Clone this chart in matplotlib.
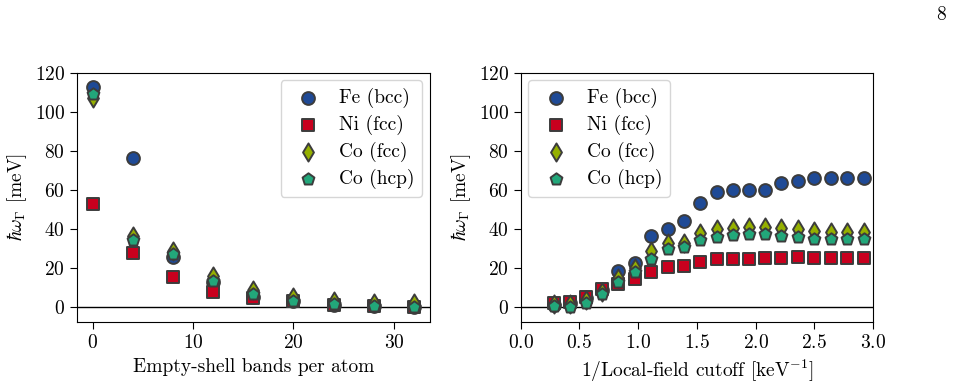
import numpy as np
import matplotlib
matplotlib.use("Agg")
import matplotlib.pyplot as plt

plt.rcParams['font.family'] = 'serif'
plt.rcParams['font.serif'] = ['cmr10', 'DejaVu Serif']
plt.rcParams['mathtext.fontset'] = 'cm'
plt.rcParams['axes.unicode_minus'] = False
plt.rcParams['axes.formatter.use_mathtext'] = True
plt.rcParams['font.size'] = 14

# dados - painel esquerdo
bands = [0, 4, 8, 12, 16, 20, 24, 28, 32]
fe_bands = [112.8, 76.1, 25.3, 12.8, 5.0, 3.0, 1.0, 0.5, 0.0]
ni_bands = [52.6, 27.4, 15.0, 7.4, 4.3, 3.0, 1.0, 0.5, 0.0]
cofcc_bands = [107.0, 36.4, 28.7, 15.7, 8.5, 5.0, 3.0, 2.0, 1.7]
cohcp_bands = [109.0, 34.2, 26.8, 13.3, 6.3, 3.0, 1.2, 0.5, 0.0]

# dados - painel direito
inv_cut = [0.28, 0.42, 0.56, 0.69, 0.83, 0.97, 1.11, 1.25, 1.39, 1.53,
           1.67, 1.81, 1.94, 2.08, 2.22, 2.36, 2.50, 2.64, 2.78, 2.92]
fe_cut = [1.0, 2.0, 4.5, 8.5, 18.5, 22.2, 36.2, 39.7, 44.1, 53.0,
          58.6, 59.8, 59.8, 59.8, 63.6, 64.4, 65.8, 65.8, 65.8, 65.8]
ni_cut = [1.7, 2.6, 4.8, 8.9, 11.6, 14.0, 17.6, 20.5, 21.0, 22.7,
          24.4, 24.4, 24.4, 24.8, 24.8, 25.6, 25.1, 25.1, 25.1, 25.1]
cofcc_cut = [1.2, 1.5, 3.5, 7.5, 14.5, 20.0, 28.7, 32.8, 32.8, 37.9,
             39.7, 40.2, 41.0, 40.7, 40.2, 39.8, 38.8, 38.5, 38.5, 38.1]
cohcp_cut = [0.5, 0.0, 2.0, 6.3, 12.8, 17.6, 24.3, 29.4, 30.4, 34.2,
             35.9, 36.8, 37.1, 37.1, 36.4, 35.9, 34.7, 34.7, 34.7, 34.5]

labels = ['Fe (bcc)', 'Ni (fcc)', 'Co (fcc)', 'Co (hcp)']
colors = ['#1f4a96', '#c8001e', '#95b000', '#22a77a']
markers = ['o', 's', 'd', 'p']
sizes = [85, 75, 85, 80]

fig = plt.figure(figsize=(9.6, 3.89), dpi=100)
ax1 = fig.add_axes([0.0799, 0.1715, 0.368, 0.6416])
ax2 = fig.add_axes([0.5424, 0.1715, 0.367, 0.6416])

series1 = [fe_bands, ni_bands, cofcc_bands, cohcp_bands]
series2 = [fe_cut, ni_cut, cofcc_cut, cohcp_cut]

for ax, x, series in [(ax1, bands, series1), (ax2, inv_cut, series2)]:
    ax.axhline(0, color='black', lw=1.0, zorder=1)
    for y, lab, c, m, s in zip(series, labels, colors, markers, sizes):
        ax.scatter(x, y, s=s, marker=m, color=c, edgecolor='#3c3c3c',
                   linewidth=1.4, label=lab, zorder=3)
    ax.set_ylim(-8, 120)
    ax.set_yticks([0, 20, 40, 60, 80, 100, 120])
    ax.set_ylabel(r'$\hbar\omega_\Gamma$ [meV]', labelpad=4)
    ax.tick_params(direction='out', length=5)

ax1.set_xlim(-1.6, 33.6)
ax1.set_xlabel('Empty-shell bands per atom')
ax1.legend(loc='upper right', handletextpad=0.6, borderpad=0.4,
           labelspacing=0.35, borderaxespad=0.4)

ax2.set_xlim(0, 3)
ax2.set_xticks([0.0, 0.5, 1.0, 1.5, 2.0, 2.5, 3.0])
ax2.set_xlabel(r'1/Local-field cutoff [keV$^{-1}$]')
ax2.legend(loc='upper left', handletextpad=0.6, borderpad=0.4,
           labelspacing=0.35, borderaxespad=0.4)

fig.text(0.985, 0.962, '8', ha='right', va='center')

fig.savefig('out.png', dpi=100)
